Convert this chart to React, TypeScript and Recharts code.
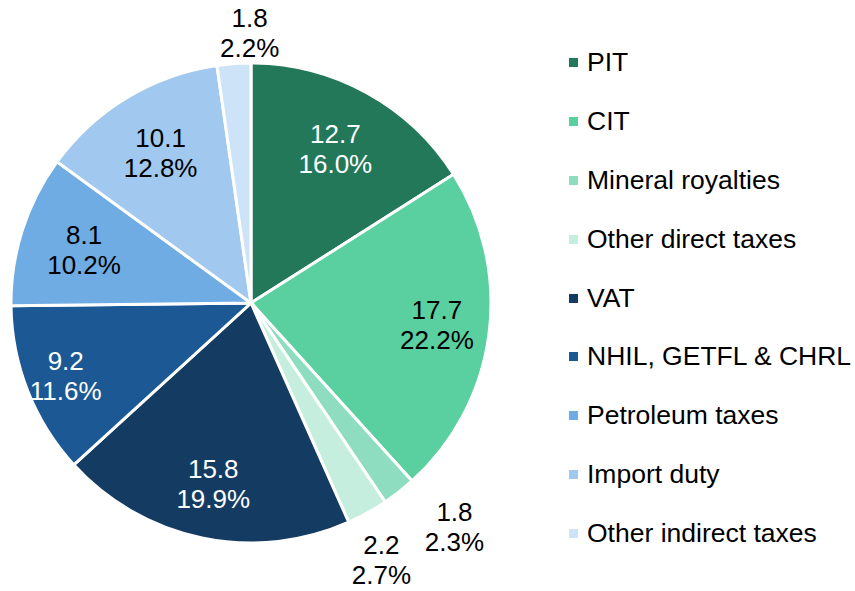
import React from 'react';
import { PieChart, Pie, Cell, Legend } from 'recharts';

const categories = [
  'PIT',
  'CIT',
  'Mineral royalties',
  'Other direct taxes',
  'VAT',
  'NHIL, GETFL & CHRL',
  'Petroleum taxes',
  'Import duty',
  'Other indirect taxes',
];
const values = [12.7, 17.7, 1.8, 2.2, 15.8, 9.2, 8.1, 10.1, 1.8];
const shares = ['16.0%', '22.2%', '2.3%', '2.7%', '19.9%', '11.6%', '10.2%', '12.8%', '2.2%'];
const colors = ['#23785A', '#5ACFA0', '#8EDDC0', '#C6EEDF', '#143C63', '#1C5994', '#6FACE4', '#A1C8EE', '#CDE3F7'];

const data = categories.map((name, i) => ({ name, value: values[i], share: shares[i] }));

const FONT = '"Liberation Sans", Arial, sans-serif';
const RAD = Math.PI / 180;
// label placement relative to each slice: radius factor and angular shift (degrees, clockwise)
const labelRadius = [0.73, 0.78, 1.26, 1.2, 0.77, 0.83, 0.73, 0.73, 1.125];
const labelShift = [0, -1, -4.2, 2.1, 0, 0, 0, 0, 3.8];
const labelFill = ['#fff', '#000', '#000', '#000', '#fff', '#fff', '#000', '#000', '#000'];

const renderLabel = (props: any) => {
  const { cx, cy, midAngle, outerRadius, index } = props;
  const r = outerRadius * labelRadius[index];
  const a = (midAngle - labelShift[index]) * RAD;
  const x = cx + r * Math.cos(-a);
  const y = cy + r * Math.sin(-a);
  return (
    <text x={x} y={y} textAnchor="middle" fill={labelFill[index]} fontSize={26} fontFamily={FONT}>
      <tspan x={x} y={y - 15} dominantBaseline="central">{data[index].value.toFixed(1)}</tspan>
      <tspan x={x} y={y + 15} dominantBaseline="central">{data[index].share}</tspan>
    </text>
  );
};

const renderLegend = () => (
  <div style={{ fontFamily: FONT, fontSize: 26.5, color: '#000' }}>
    {categories.map((c, i) => (
      <div key={c} style={{ display: 'flex', alignItems: 'center', height: 58.9, whiteSpace: 'nowrap' }}>
        <span style={{ display: 'inline-block', width: 9, height: 9, background: colors[i], marginRight: 9 }} />
        <span>{c}</span>
      </div>
    ))}
  </div>
);

export default function App() {
  return (
    <div style={{ position: 'absolute', left: 0, top: 0, background: '#fff' }}>
      <PieChart width={855} height={591} margin={{ top: 0, right: 0, bottom: 0, left: 0 }}>
        <Pie
          data={data}
          dataKey="value"
          nameKey="name"
          cx={251}
          cy={303}
          outerRadius={240}
          startAngle={90}
          endAngle={-270}
          stroke="#fff"
          strokeWidth={3}
          label={renderLabel}
          labelLine={false}
          isAnimationActive={false}
        >
          {data.map((d, i) => (
            <Cell key={d.name} fill={colors[i]} />
          ))}
        </Pie>
        <Legend
          content={renderLegend}
          wrapperStyle={{ position: 'absolute', left: 569, top: 33, width: 290 }}
        />
      </PieChart>
    </div>
  );
}
